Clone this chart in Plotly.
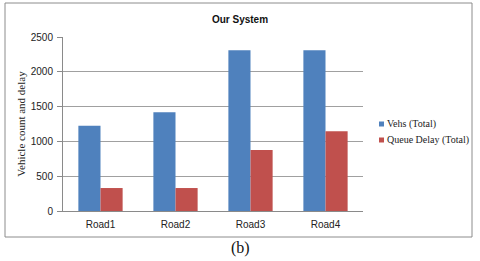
import plotly.graph_objects as go

categories = ["Road1", "Road2", "Road3", "Road4"]
vehs_total = [1225, 1420, 2310, 2310]
queue_delay_total = [330, 330, 875, 1145]
series_names = ["Vehs (Total)", "Queue Delay (Total)"]
series_colors = ["#4F81BD", "#C0504D"]
y_ticks = [0, 500, 1000, 1500, 2000, 2500]

W, H = 480, 261
L, R, T, B = 63, 117, 37, 50
pw, ph = W - L - R, H - T - B

def px_x(x):
    return (x - L) / pw

def px_y(y):
    return (H - B - y) / ph

fig = go.Figure()
fig.add_trace(go.Bar(x=categories, y=vehs_total, name=series_names[0],
                     marker=dict(color=series_colors[0], line=dict(width=0))))
fig.add_trace(go.Bar(x=categories, y=queue_delay_total, name=series_names[1],
                     marker=dict(color=series_colors[1], line=dict(width=0))))

shapes = [dict(type="rect", xref="paper", yref="paper",
               x0=px_x(5), x1=px_x(472), y0=px_y(237), y1=px_y(3),
               line=dict(color="#8c8c8c", width=1), fillcolor="rgba(0,0,0,0)",
               layer="below")]
annotations = [dict(text="(b)", xref="paper", yref="paper",
                    x=px_x(240), y=px_y(248), xanchor="center", yanchor="middle",
                    showarrow=False,
                    font=dict(family="Liberation Serif", size=16, color="#111"))]

legend_rows = [124, 140]
for name, color, yy in zip(series_names, series_colors, legend_rows):
    shapes.append(dict(type="rect", xref="paper", yref="paper",
                       x0=px_x(379), x1=px_x(384), y0=px_y(yy + 2.5), y1=px_y(yy - 2.5),
                       line=dict(width=0), fillcolor=color))
    annotations.append(dict(text=name, xref="paper", yref="paper",
                            x=px_x(385), y=px_y(yy), xanchor="left", yanchor="middle",
                            showarrow=False,
                            font=dict(family="Liberation Serif", size=10, color="#222")))

fig.update_layout(
    width=W, height=H,
    margin=dict(l=L, r=R, t=T, b=B),
    paper_bgcolor="white", plot_bgcolor="white",
    barmode="group", bargap=0.41, bargroupgap=0,
    showlegend=False,
    title=dict(text="<b>Our System</b>", x=240 / W, xanchor="center",
               y=1 - 19 / H, yanchor="middle",
               font=dict(family="Liberation Sans", size=10, color="#111")),
    xaxis=dict(showline=True, linecolor="#8a8a8a", linewidth=1,
               ticks="", ticklabelstandoff=4,
               tickfont=dict(family="Liberation Sans", size=10, color="#222"),
               showgrid=False),
    yaxis=dict(range=[0, 2500], tickvals=y_ticks, showgrid=True,
               gridcolor="#a0a0a0", gridwidth=1, showline=True,
               linecolor="#8a8a8a", linewidth=1, ticks="outside", ticklen=5,
               tickcolor="#8a8a8a", ticklabelstandoff=2,
               tickfont=dict(family="Liberation Sans", size=10, color="#222"),
               title=dict(text="Vehicle count and delay", standoff=2,
                          font=dict(family="Liberation Serif", size=11, color="#222")),
               zeroline=False),
    shapes=shapes,
    annotations=annotations,
)

fig.write_html("out.html", config={"displayModeBar": False},
               post_script="document.body.style.margin='0';")
